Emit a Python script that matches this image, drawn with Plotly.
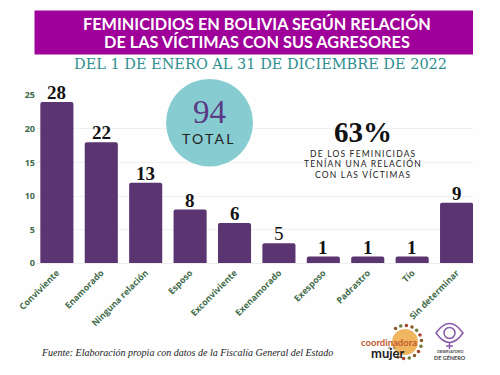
import math
import plotly.graph_objects as go

categories = ["Conviviente", "Enamorado", "Ninguna relación", "Esposo", "Exconviviente",
              "Exenamorado", "Exesposo", "Padrastro", "Tío", "Sin determinar"]
bar_heights = [24, 18, 12, 8, 6, 3, 1, 1, 1, 9]
bar_labels = ["28", "22", "13", "8", "6", "5", "1", "1", "1", "9"]
label_weights = [700, 700, 700, 700, 700, 400, 700, 700, 700, 700]
y_ticks = [0, 5, 10, 15, 20, 25]

W, H = 500, 375
PURPLE = "#5b3472"
GREEN = "#3f6b4a"
TEAL = "#2f8f8f"

def px(x): return x / W
def py(y): return 1 - y / H

fig = go.Figure(go.Bar(
    x=categories, y=bar_heights, width=0.745,
    marker=dict(color=PURPLE, cornerradius=2, line=dict(width=0)),
    hoverinfo="x+y",
))

shapes = [
    dict(type="rect", xref="paper", yref="paper", x0=px(34.5), x1=px(473), y0=py(54.5), y1=py(10.5),
         fillcolor="#a0009a", line=dict(width=0), layer="above"),
    dict(type="circle", xref="paper", yref="paper", x0=px(166), x1=px(253), y0=py(166.5), y1=py(79),
         fillcolor="rgba(125,200,205,0.93)", line=dict(width=0), layer="above"),
    # sun logo
    dict(type="circle", xref="paper", yref="paper", x0=px(392), x1=px(418), y0=py(355), y1=py(329),
         fillcolor="#f0b55f", line=dict(width=0), layer="above"),
    # eye logo
    dict(type="path", xref="paper", yref="paper",
         path=f"M {px(436)} {py(333)} Q {px(449.5)} {py(314)} {px(463)} {py(333)} Q {px(449.5)} {py(352)} {px(436)} {py(333)} Z",
         fillcolor="rgba(0,0,0,0)", line=dict(color="#8a5aa8", width=1.5), layer="above"),
    dict(type="circle", xref="paper", yref="paper", x0=px(444), x1=px(455), y0=py(338.5), y1=py(327.5),
         fillcolor="rgba(0,0,0,0)", line=dict(color="#8a5aa8", width=1.5), layer="above"),
    dict(type="line", xref="paper", yref="paper", x0=px(449.5), x1=px(449.5), y0=py(342), y1=py(349),
         line=dict(color="#8a5aa8", width=1.5), layer="above"),
    dict(type="line", xref="paper", yref="paper", x0=px(446), x1=px(453), y0=py(346), y1=py(346),
         line=dict(color="#8a5aa8", width=1.5), layer="above"),
]
# ring of small figures around the sun logo
for i in range(13):
    a = math.radians(-125 + i * 20)
    cx, cy = 405 + 16.5 * math.cos(a), 342 + 16.5 * math.sin(a)
    col = ["#8a5a2b", "#6f7d3a", "#a8452c"][i % 3]
    shapes.append(dict(type="circle", xref="paper", yref="paper", x0=px(cx - 1.8), x1=px(cx + 1.8),
                       y0=py(cy + 1.8), y1=py(cy - 1.8), fillcolor=col, line=dict(width=0), layer="above"))

def note(text, x, y, size, color, family, anchor="center", spacing=None, **kw):
    if spacing:
        text = f'<span style="letter-spacing:{spacing}px">{text}</span>'
    return dict(text=text, xref="paper", yref="paper", x=px(x), y=py(y), showarrow=False,
                xanchor=anchor, yanchor="middle", align="center",
                font=dict(size=size, color=color, family=family, **kw))

annotations = [
    note("FEMINICIDIOS EN BOLIVIA SEGÚN RELACIÓN", 257, 23, 16.3, "white", "Lato", weight=700),
    note("DE LAS VÍCTIMAS CON SUS AGRESORES", 257, 42, 16.3, "white", "Lato", weight=700),
    note("DEL 1 DE ENERO AL 31 DE DICIEMBRE DE 2022", 260, 63.5, 14.5, TEAL, "DejaVu Serif"),
    note("94", 209, 112, 33, "#5b3a86", "Liberation Serif"),
    note("TOTAL", 209, 138, 14, "#222222", "Lato", spacing=2.2),
    note("63%", 363, 132, 29, "#111111", "Liberation Serif", weight=700),
    note("DE LOS FEMINICIDAS", 363, 153.5, 8.5, "#222222", "Lato", spacing=1.2),
    note("TENÍAN UNA RELACIÓN", 363, 163.5, 8.5, "#222222", "Lato", spacing=1.2),
    note("CON LAS VÍCTIMAS", 363, 174, 8.5, "#222222", "Lato", spacing=1.2),
    note("<i>Fuente: Elaboración propia con datos de la Fiscalía General del Estado</i>",
         39, 352, 10, "#222222", "Liberation Serif", anchor="left"),
    note("coordinadora", 389, 342, 9.5, "#c2592e", "Lato", weight=700),
    note("de la", 392, 347.5, 3.5, "#444444", "Lato"),
    note("mujer", 387, 353, 13, "#222222", "Lato", weight=700),
    note("OBSERVATORIO", 450, 352, 3.5, "#444444", "Lato", weight=700),
    note("DE GÉNERO", 450, 357, 5.5, "#444444", "Lato", weight=700),
]
for cat, h, lab, wt in zip(categories, bar_heights, bar_labels, label_weights):
    annotations.append(dict(text=lab, x=cat, y=h, xref="x", yref="y", showarrow=False,
                            xanchor="center", yanchor="middle", yshift=9.5,
                            font=dict(family="Liberation Serif", size=19, color="#111111", weight=wt)))

fig.update_layout(
    width=W, height=H, margin=dict(l=0, r=0, t=0, b=0, pad=0), autosize=False,
    paper_bgcolor="#fefefe", plot_bgcolor="rgba(0,0,0,0)", showlegend=False,
    shapes=shapes, annotations=annotations,
    xaxis=dict(domain=[px(36), px(473)], range=[-0.47, 9.37], type="category", automargin=False,
               tickangle=-45, tickfont=dict(family="Open Sans", size=8.8, color=GREEN, weight=700),
               showgrid=False, showline=True, linecolor="#eeeeee", ticks="", ticklen=0),
    yaxis=dict(domain=[py(263.3), py(95.3)], range=[0, 25], tickvals=y_ticks, automargin=False,
               tickfont=dict(family="Open Sans", size=9, color=GREEN, weight=700),
               showgrid=True, gridcolor="#f0f0f0", gridwidth=1, zeroline=False, ticks="", ticklen=0),
)
fig.write_html("out.html", config={"displayModeBar": False},
               post_script="document.body.style.margin='0';")
